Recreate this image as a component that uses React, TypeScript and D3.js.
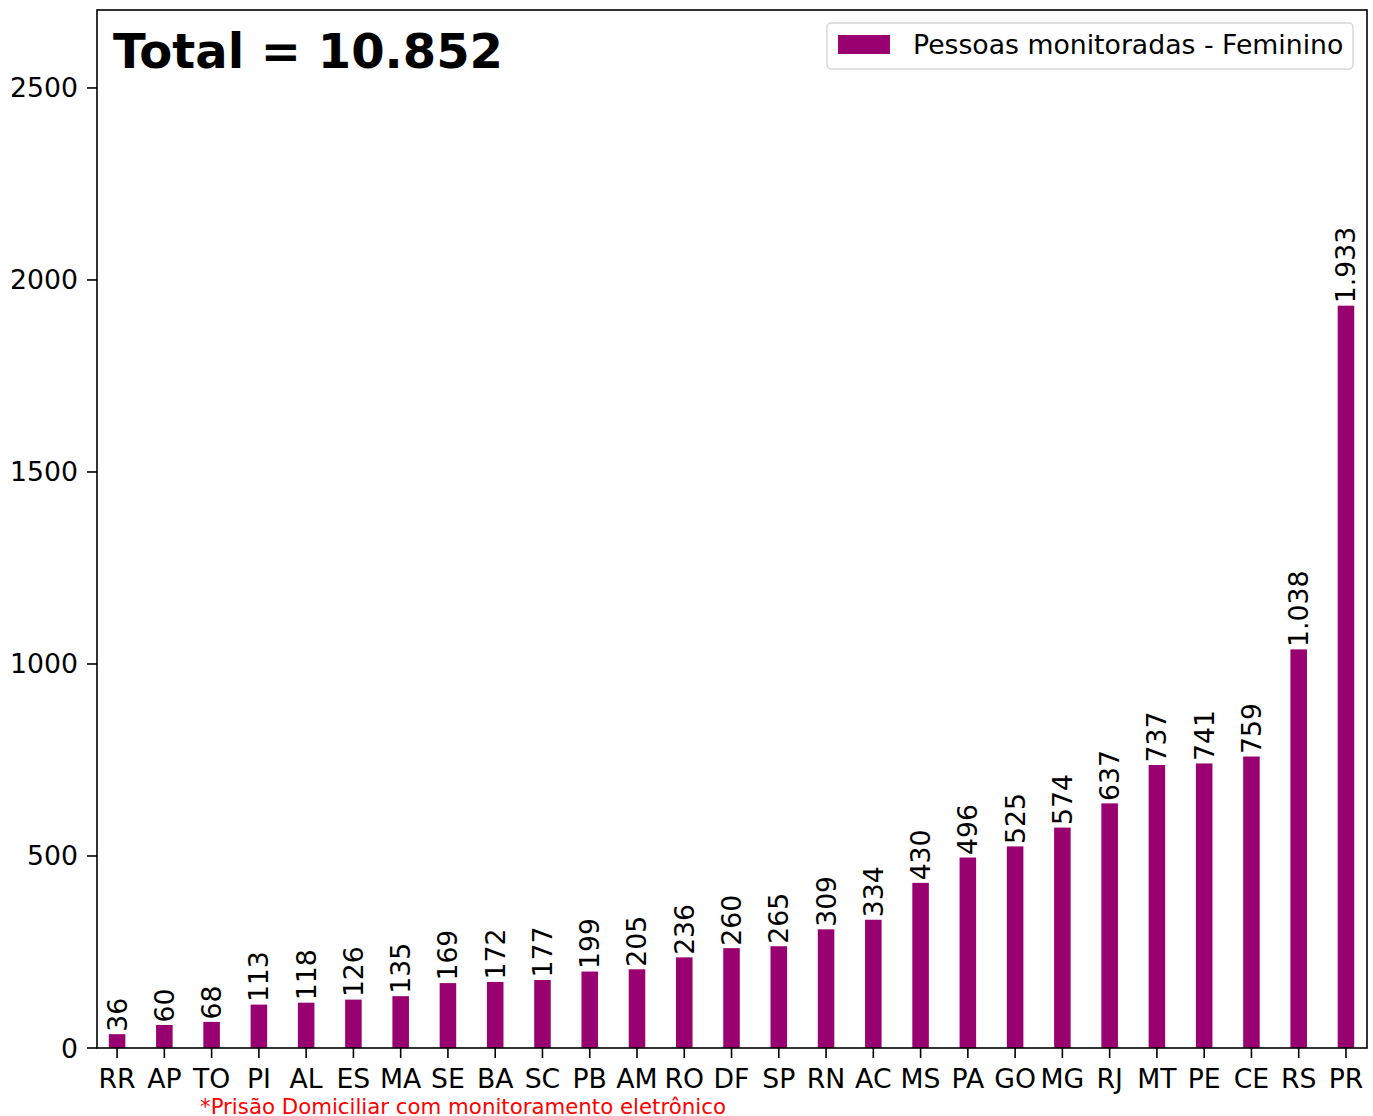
import React from "react";
import * as d3 from "d3";

const states = ["RR","AP","TO","PI","AL","ES","MA","SE","BA","SC","PB","AM","RO","DF","SP","RN","AC","MS","PA","GO","MG","RJ","MT","PE","CE","RS","PR"];
const values = [36,60,68,113,118,126,135,169,172,177,199,205,236,260,265,309,334,430,496,525,574,637,737,741,759,1038,1933];
const yTicks = [0,500,1000,1500,2000,2500];
const legendLabel = "Pessoas monitoradas - Feminino";
const titleText = "Total = 10.852";
const footnote = "*Prisão Domiciliar com monitoramento eletrônico";

const W = 1373, H = 1116;
const L = 97, R = 1367, T = 10, B = 1048;
const color = "#990070";
const font = "'DejaVu Sans', sans-serif";
const fs = 26.7;

const fmt = (v: number) => v >= 1000 ? `${Math.floor(v / 1000)}.${String(v % 1000).padStart(3, "0")}` : String(v);

export default function App() {
  const x = d3.scaleLinear().domain([-0.425, 26.445]).range([L, R]);
  const y = d3.scaleLinear().domain([0, 2703]).range([B, T]);
  const bw = (x(0.35) - x(0));
  return (
    <svg width={W} height={H} style={{ position: "absolute", left: 0, top: 0, background: "#fff" }} fontFamily={font}>
      <rect x={0} y={0} width={W} height={H} fill="#fff" />
      {values.map((v, i) => (
        <rect key={states[i]} x={x(i) - bw / 2} y={y(v)} width={bw} height={B - y(v)} fill={color} />
      ))}
      {values.map((v, i) => (
        <text key={"l" + i} transform={`translate(${x(i) + 9.5},${y(v) - 2.5}) rotate(-90)`} fontSize={fs} fill="#000">{fmt(v)}</text>
      ))}
      <rect x={L} y={T} width={R - L} height={B - T} fill="none" stroke="#000" strokeWidth={1.6} />
      {yTicks.map(t => (
        <g key={t}>
          <line x1={L - 10} x2={L} y1={y(t)} y2={y(t)} stroke="#000" strokeWidth={1.6} />
          <text x={L - 19} y={y(t) + 9.5} textAnchor="end" fontSize={fs} fill="#000">{t}</text>
        </g>
      ))}
      {states.map((s, i) => (
        <g key={s}>
          <line x1={x(i)} x2={x(i)} y1={B} y2={B + 10} stroke="#000" strokeWidth={1.6} />
          <text x={x(i)} y={B + 40} textAnchor="middle" fontSize={fs} fill="#000">{s}</text>
        </g>
      ))}
      <text x={113} y={68} fontSize={48} fontWeight="bold" fill="#000">{titleText}</text>
      <rect x={827} y={23} width={526} height={46} rx={4} fill="#fff" stroke="#d6d6d6" strokeWidth={1.4} />
      <rect x={838} y={35} width={52} height={19} fill={color} />
      <text x={913} y={54} fontSize={fs} fill="#000">{legendLabel}</text>
      <text x={200} y={1114} fontSize={21.3} fill="#ff0000">{footnote}</text>
    </svg>
  );
}
